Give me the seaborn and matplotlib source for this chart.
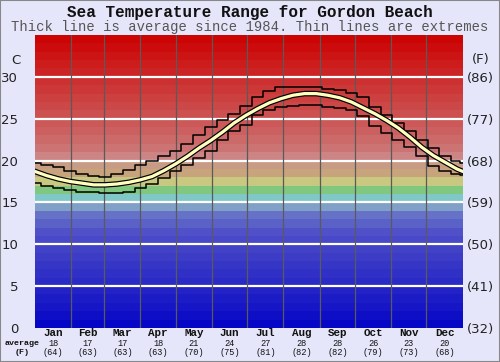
import numpy as np
import pandas as pd
import seaborn as sns
import matplotlib.pyplot as plt
import matplotlib.transforms as mtransforms
from matplotlib.patches import Rectangle

# day of year at which each reading was taken off the chart
days = [0, 10, 20, 30, 40, 50, 60, 70, 80, 90, 100, 110, 120, 130, 140, 150, 160, 170, 180,
        190, 200, 210, 220, 230, 240, 250, 260, 270, 280, 290, 300, 310, 320, 330, 340, 350, 360, 365]
avg_temp = [18.7, 18.2, 17.8, 17.5, 17.3, 17.1, 17.1, 17.2, 17.4, 17.7, 18.1, 18.8, 19.6, 20.5, 21.5,
            22.4, 23.4, 24.5, 25.4, 26.2, 26.9, 27.4, 27.8, 28.0, 28.0, 27.8, 27.5, 27.0, 26.3, 25.6,
            24.8, 23.9, 22.8, 21.6, 20.6, 19.8, 19.0, 18.7]
max_temp = [19.7, 19.5, 19.2, 18.8, 18.4, 18.2, 18.0, 18.4, 18.9, 19.5, 20.0, 20.6, 21.2, 22.0, 23.0,
            24.0, 24.8, 25.6, 26.5, 27.6, 28.3, 28.8, 28.8, 28.8, 28.8, 28.6, 28.4, 28.1, 27.6, 26.4,
            25.4, 24.5, 23.5, 22.5, 21.5, 20.6, 19.9, 19.7]
min_temp = [17.3, 17.0, 16.7, 16.5, 16.3, 16.2, 16.1, 16.1, 16.3, 16.7, 17.2, 17.9, 18.7, 19.5, 20.3,
            21.2, 22.5, 23.5, 24.3, 25.5, 26.0, 26.4, 26.5, 26.6, 26.6, 26.4, 26.3, 26.0, 25.3, 24.1,
            23.3, 22.5, 21.6, 20.5, 19.4, 18.8, 18.4, 18.3]

months = ["Jan", "Feb", "Mar", "Apr", "May", "Jun", "Jul", "Aug", "Sep", "Oct", "Nov", "Dec"]
month_len = [31, 28, 31, 30, 31, 30, 31, 31, 30, 31, 30, 31]
month_avg_c = [18, 17, 17, 18, 21, 24, 27, 28, 28, 26, 23, 20]
month_avg_f = [64, 63, 63, 63, 70, 75, 81, 82, 82, 79, 73, 68]

c_ticks = [0, 5, 10, 15, 20, 25, 30]
f_labels = ["(32)", "(41)", "(50)", "(59)", "(68)", "(77)", "(86)"]

# one colour per degree band, 0 -> 35 C
band_colors = ["#0606c6", "#0e0ec6", "#1616c6", "#1c1cc6", "#2222c6", "#2a2ac6", "#3030c6",
               "#3636c6", "#3c3cc6", "#4242c6", "#4848c8", "#5050c8", "#5a62c8", "#6672c8",
               "#80a0c8", "#80c8c8", "#80c880", "#c8c880", "#c8a47c", "#c89c84", "#cc8484",
               "#cc7474", "#cc6a6a", "#cc6060", "#cc5858", "#cc5050", "#cc4848", "#cc4040",
               "#cc3838", "#cc3030", "#cc2424", "#cc1c1c", "#cc1414", "#cc0c0c", "#cc0404"]

df = pd.DataFrame({"day": days, "avg": avg_temp, "max": max_temp, "min": min_temp})

bg = "#e6e6fa"
fig = plt.figure(figsize=(5.0, 3.62), dpi=100, facecolor=bg)
ax = fig.add_axes([0.07, 0.094, 0.8554, 0.8093])
ax.set_facecolor(bg)

for i, col in enumerate(band_colors):
    ax.axhspan(i, i + 1, color=col, lw=0, zorder=0)

for t in c_ticks[1:]:
    ax.axhline(t, color="white", lw=1.6, zorder=1)
bounds = np.cumsum([0] + month_len)
for b in bounds[1:-1]:
    ax.axvline(b, color="#5a5a5a", lw=0.9, zorder=1)

sns.lineplot(data=df, x="day", y="max", ax=ax, color="black", lw=1.1,
             drawstyle="steps-mid", zorder=3)
sns.lineplot(data=df, x="day", y="min", ax=ax, color="black", lw=1.1,
             drawstyle="steps-mid", zorder=3)
sns.lineplot(data=df, x="day", y="avg", ax=ax, color="black", lw=4.0, zorder=4)
sns.lineplot(data=df, x="day", y="avg", ax=ax, color="#ffffc0", lw=2.3, zorder=5)

ax.set_xlim(0, 365)
ax.set_ylim(0, 35)
for s in ax.spines.values():
    s.set_visible(False)
ax.set_xlabel("")
ax.set_ylabel("")

ax.set_yticks(c_ticks)
ax.set_yticklabels([str(t) for t in c_ticks], fontsize=9.5, color="#222222")
ax.tick_params(axis="y", length=0, pad=12)

ax2 = ax.twinx()
ax2.set_ylim(0, 35)
ax2.set_yticks(c_ticks)
ax2.set_yticklabels(f_labels, fontsize=9.5, color="#222222")
ax2.tick_params(axis="y", length=0, pad=3)
for s in ax2.spines.values():
    s.set_visible(False)

ax.set_xticks([])
centers = [(bounds[i] + bounds[i + 1]) / 2 for i in range(12)]
trans = mtransforms.blended_transform_factory(ax.transData, fig.transFigure)
for c, name, vc, vf in zip(centers, months, month_avg_c, month_avg_f):
    ax.text(c, 1 - 333.5 / 362, name, transform=trans, ha="center", va="center",
            fontsize=7.8, fontweight="bold", family="Liberation Mono", color="#111111")
    ax.text(c, 1 - 343.5 / 362, str(vc), transform=trans, ha="center", va="center",
            fontsize=6.2, family="Liberation Mono", color="#111111")
    ax.text(c, 1 - 352.5 / 362, f"({vf})", transform=trans, ha="center", va="center",
            fontsize=6.2, family="Liberation Mono", color="#111111")

fig.text(22 / 500, 1 - 343.5 / 362, "average", ha="center", va="center", fontsize=6.0,
         fontweight="bold", family="Liberation Mono", color="#111111")
fig.text(22 / 500, 1 - 352.5 / 362, "(F)", ha="center", va="center", fontsize=6.0,
         fontweight="bold", family="Liberation Mono", color="#111111")
fig.text(16 / 500, 1 - 60 / 362, "C", ha="center", va="center", fontsize=9.5, color="#222222")
fig.text(481 / 500, 1 - 60 / 362, "(F)", ha="center", va="center", fontsize=9.5, color="#222222")

fig.text(0.5, 1 - 12 / 362, "Sea Temperature Range for Gordon Beach", ha="center", va="center",
         fontsize=11.5, fontweight="bold", family="Liberation Mono", color="#111111")
fig.text(0.5, 1 - 27 / 362, "Thick line is average since 1984. Thin lines are extremes",
         ha="center", va="center", fontsize=10, family="Liberation Mono", color="#555555")

fig.patches.append(Rectangle((0, 0), 1, 1, transform=fig.transFigure, fill=False,
                             edgecolor="#888888", lw=1.5))

fig.savefig("out.png", dpi=100, facecolor=bg)
